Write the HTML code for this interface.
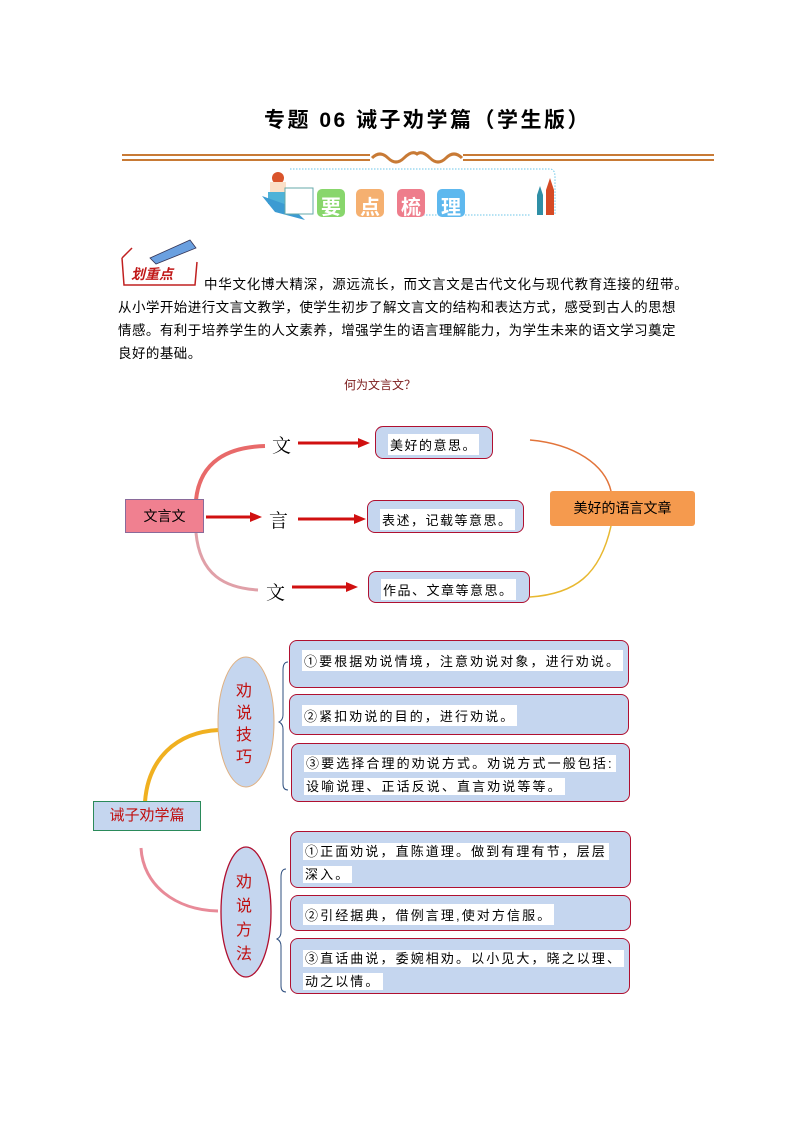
<!DOCTYPE html>
<html><head><meta charset="utf-8"><style>
body{margin:0;background:#fff;}
#p{position:relative;width:794px;height:1123px;overflow:hidden;font-family:"Liberation Sans","Noto Sans CJK SC",sans-serif;color:#000;}
.a{position:absolute;white-space:nowrap;}
.bx{position:absolute;box-sizing:border-box;border:1.3px solid #b01030;border-radius:8px;background:#c5d6ef;font-size:13px;letter-spacing:2.1px;}
.bx span{background:#fff;padding:1px 2px;}
.t{position:absolute;left:12px;white-space:nowrap;}
.bl{position:absolute;font-size:20px;font-weight:bold;color:#fff;width:28px;text-align:center;top:191px}
.ln{position:absolute;left:118px;font-size:13.5px;letter-spacing:0.45px;white-space:nowrap}
</style></head><body><div id="p">
<div class="a" style="left:264px;top:104px;font-size:21px;font-weight:bold;letter-spacing:2.5px">专题 06 诫子劝学篇（学生版）</div>
<svg class="a" style="left:0;top:0" width="794" height="1123">
 <g stroke="#c87a35" stroke-width="2" fill="none">
  <line x1="122" y1="155" x2="370" y2="155"/><line x1="122" y1="160" x2="370" y2="160"/>
  <line x1="463" y1="155" x2="714" y2="155"/><line x1="463" y1="160" x2="714" y2="160"/>
  <path d="M372 158 q8 -8 16 0 q8 8 16 0 q8 -8 13 -4 q5 -4 13 4 q8 8 16 0 q8 -8 16 0" stroke-width="3"/>
 </g>
 <path d="M290 169 H550 q5 0 5 8 V215" stroke="#6cc6e8" stroke-dasharray="1.5 1.5" fill="none"/>
 <line x1="420" y1="215" x2="530" y2="215" stroke="#6cc6e8" stroke-dasharray="1.5 1.5"/>
 <circle cx="278" cy="178" r="6" fill="#d9542b"/><rect x="270" y="182" width="16" height="20" fill="#fbe0c8"/>
 <rect x="268" y="192" width="20" height="12" fill="#4fb2d8"/>
 <path d="M262 196 L290 206 L305 220 L275 212 Z" fill="#3c9bd2"/>
 <rect x="285" y="188" width="28" height="26" fill="#fff" stroke="#6aa" stroke-width="1"/>
 <rect x="317" y="189" width="28" height="28" rx="5" fill="#88d66c"/>
 <rect x="356" y="189" width="28" height="28" rx="5" fill="#f5b070"/>
 <rect x="397" y="189" width="28" height="28" rx="5" fill="#ee7d8c"/>
 <rect x="437" y="189" width="28" height="28" rx="5" fill="#5eb8ee"/>
 <path d="M537 215 V195 L540 186 L543 195 V215 Z" fill="#2f8fa6"/>
 <path d="M546 215 V190 L550 178 L554 190 V215 Z" fill="#d64a25"/>
 <path d="M122 258 L132 248 M122 258 L124 285 L195 285 L197 262" stroke="#c02020" fill="none" stroke-width="1.5"/>
 <rect x="128" y="265" width="58" height="16" fill="#fff"/>
 <path d="M150 258 L190 240 L196 248 L156 264 Z" fill="#6aa0e0" stroke="#335" stroke-width="0.8"/>
 <path d="M196 500 C200 460 230 447 265 446" stroke="#e86a6a" stroke-width="4" fill="none"/>
 <path d="M196 533 C200 575 225 588 258 590" stroke="#e0a0a8" stroke-width="3" fill="none"/>
 <path d="M530 440 C575 444 605 465 611 491" stroke="#e2743a" stroke-width="1.5" fill="none"/>
 <path d="M611 526 C600 575 575 594 530 597" stroke="#e8b830" stroke-width="1.5" fill="none"/>
 <g stroke="#d01010" stroke-width="3" fill="#d01010">
  <line x1="298" y1="443" x2="360" y2="443"/><path d="M358 438 L370 443 L358 448Z" stroke="none"/>
  <line x1="206" y1="517" x2="252" y2="517"/><path d="M250 512 L262 517 L250 522Z" stroke="none"/>
  <line x1="298" y1="519" x2="356" y2="519"/><path d="M354 514 L366 519 L354 524Z" stroke="none"/>
  <line x1="292" y1="587" x2="348" y2="587"/><path d="M346 582 L358 587 L346 592Z" stroke="none"/>
 </g>
 <path d="M219 730 C175 732 148 760 145 802" stroke="#f0b020" stroke-width="4" fill="none"/>
 <path d="M141 848 C143 885 175 910 218 911" stroke="#e88a98" stroke-width="3" fill="none"/>
 <ellipse cx="246" cy="722" rx="28" ry="65" fill="#c5d6ef" stroke="#e0b080" stroke-width="1"/>
 <ellipse cx="246" cy="912" rx="25" ry="65" fill="#c5d6ef" stroke="#b01030" stroke-width="1.3"/>
 <path d="M288 662 q-5 0 -5 8 v45 q0 5 -4 7 q4 2 4 7 v55 q0 6 5 6" stroke="#2f4f7f" fill="none"/>
 <path d="M286 869 q-5 0 -5 8 v55 q0 5 -4 7 q4 2 4 7 v40 q0 6 5 6" stroke="#2f4f7f" fill="none"/>
</svg>
<div class="bl" style="left:317px">要</div>
<div class="bl" style="left:356px">点</div>
<div class="bl" style="left:397px">梳</div>
<div class="bl" style="left:437px">理</div>
<div class="a" style="left:131px;top:264px;font-size:14px;font-weight:bold;color:#c01818;font-style:italic">划重点</div>
<div class="ln" style="left:204px;top:273px;letter-spacing:0.75px">中华文化博大精深，源远流长，而文言文是古代文化与现代教育连接的纽带。</div>
<div class="ln" style="top:296px">从小学开始进行文言文教学，使学生初步了解文言文的结构和表达方式，感受到古人的思想</div>
<div class="ln" style="top:319px">情感。有利于培养学生的人文素养，增强学生的语言理解能力，为学生未来的语文学习奠定</div>
<div class="ln" style="top:342px">良好的基础。</div>
<div class="a" style="left:344px;top:376px;font-size:12px;color:#7a1a1a">何为文言文？</div>
<div class="a" style="left:125px;top:499px;width:79px;height:34px;background:#f08090;border:1px solid #8a6a9a;box-sizing:border-box;font-size:14px;line-height:32px;text-align:center">文言文</div>
<div class="a" style="left:272px;top:431px;font-size:19px;font-family:'Liberation Serif','Noto Serif CJK SC',serif">文</div>
<div class="a" style="left:269px;top:506px;font-size:19px;font-family:'Liberation Serif','Noto Serif CJK SC',serif">言</div>
<div class="a" style="left:266px;top:578px;font-size:19px;font-family:'Liberation Serif','Noto Serif CJK SC',serif">文</div>
<div class="bx" style="left:375px;top:426px;width:118px;height:33px;letter-spacing:1.5px"><span class="t" style="top:7px">美好的意思。</span></div>
<div class="bx" style="left:367px;top:500px;width:157px;height:33px;letter-spacing:1.5px"><span class="t" style="top:8px">表述，记载等意思。</span></div>
<div class="bx" style="left:368px;top:571px;width:162px;height:32px;letter-spacing:1.5px"><span class="t" style="top:7px">作品、文章等意思。</span></div>
<div class="a" style="left:550px;top:491px;width:145px;height:35px;background:#f59a4e;border-radius:3px;font-size:14px;line-height:35px;text-align:center">美好的语言文章</div>
<div class="a" style="left:93px;top:801px;width:108px;height:30px;background:#c5d6ef;border:1.5px solid #2a8a5a;box-sizing:border-box;font-size:15px;line-height:27px;color:#c01010;text-align:center">诫子劝学篇</div>
<div class="a" style="left:236px;top:681px;font-size:16px;line-height:22px;color:#c01010;width:20px;white-space:normal">劝说技巧</div>
<div class="a" style="left:236px;top:871px;font-size:16px;line-height:24px;color:#c01010;width:20px;white-space:normal;height:98px;overflow:hidden">劝说方法</div>
<div class="bx" style="left:289px;top:640px;width:340px;height:48px"><span class="t" style="top:9px">①要根据劝说情境，注意劝说对象，进行劝说。</span></div>
<div class="bx" style="left:289px;top:694px;width:340px;height:41px"><span class="t" style="top:10px">②紧扣劝说的目的，进行劝说。</span></div>
<div class="bx" style="left:291px;top:743px;width:339px;height:59px"><div class="t" style="top:8px;line-height:23px"><span>③要选择合理的劝说方式。劝说方式一般包括:</span><br><span>设喻说理、正话反说、直言劝说等等。</span></div></div>
<div class="bx" style="left:290px;top:831px;width:341px;height:57px"><div class="t" style="top:8px;line-height:23px"><span>①正面劝说，直陈道理。做到有理有节，层层</span><br><span>深入。</span></div></div>
<div class="bx" style="left:290px;top:895px;width:341px;height:36px"><span class="t" style="top:8px">②引经据典，借例言理,使对方信服。</span></div>
<div class="bx" style="left:290px;top:938px;width:340px;height:56px"><div class="t" style="top:8px;line-height:23px"><span>③直话曲说，委婉相劝。以小见大，晓之以理、</span><br><span>动之以情。</span></div></div>
</div></body></html>
